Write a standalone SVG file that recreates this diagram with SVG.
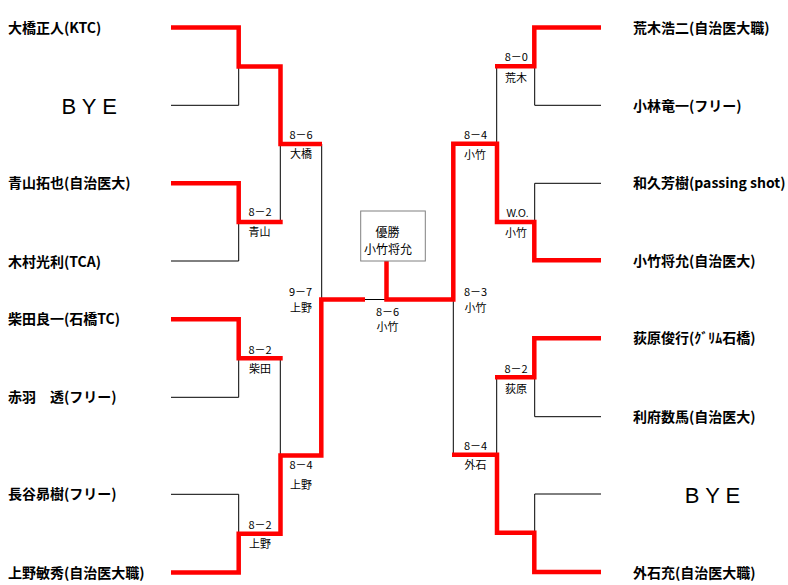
<svg xmlns="http://www.w3.org/2000/svg" width="788" height="585" viewBox="0 0 788 585">
<style>
.name{font-family:"Noto Sans CJK JP","Liberation Sans",sans-serif;font-size:14px;font-weight:bold;fill:#000}
.bye{font-family:"Liberation Sans",sans-serif;font-size:22px;fill:#000;text-anchor:middle}
.sc{font-family:"Noto Sans CJK JP","Liberation Sans",sans-serif;font-size:11px;fill:#000;text-anchor:middle}
.wo{font-family:"Liberation Sans",sans-serif;font-size:10px;fill:#000;text-anchor:middle}
.champ{font-family:"Noto Sans CJK JP",sans-serif;font-size:12px;fill:#000;text-anchor:middle}
.red{fill:none;stroke:#f00;stroke-width:4.5;stroke-linejoin:miter}
.thin{fill:none;stroke:#000;stroke-width:1}
</style>
<rect width="788" height="585" fill="#fff"/>
<g id="connectors">
<path class="thin" d="M171,105.3 H238.7 V66.5"/>
<path class="thin" d="M171,261 H238.7 V222"/>
<path class="thin" d="M171,397.3 H238.7 V358.3"/>
<path class="thin" d="M171,494.3 H238.7 V533.7"/>
<path class="thin" d="M280.3,222 V144"/>
<path class="thin" d="M280.3,358.3 V455.5"/>
<path class="thin" d="M321.7,144 V299.5"/>
<path class="thin" d="M365,299.5 H386.5"/>
<path class="thin" d="M601,105.3 H534.7 V66.2"/>
<path class="thin" d="M601,183.3 H534.7 V222"/>
<path class="thin" d="M601,416.7 H534.7 V377.2"/>
<path class="thin" d="M601,494 H534.7 V532.8"/>
<path class="thin" d="M496.7,66.2 V143.8"/>
<path class="thin" d="M496.7,377.2 V454.7"/>
<path class="thin" d="M453.3,299.5 V454.7"/>
<path class="red" d="M171,27.5 H238.7 V66.5 H280.5 V144 H322"/>
<path class="red" d="M171,183.3 H238.7 V222 H282.7"/>
<path class="red" d="M171,319.3 H238.7 V358.3 H282.7"/>
<path class="red" d="M171,572.5 H238.7 V533.7 H280.5 V455.5 H321.3 V299.5 H365"/>
<path class="red" d="M386.5,261 V299.5 H453.3 V143.8 H497 V222 H534.3 V260.3 H601"/>
<path class="red" d="M601,27.5 H534.3 V66.2 H495"/>
<path class="red" d="M601,338.3 H534.3 V377.2 H495"/>
<path class="red" d="M452,454.7 H497 V532.8 H534.3 V572 H601"/>
</g>
<g id="champion">
<rect x="360.7" y="211" width="64.6" height="50" fill="#fff" stroke="#808080" stroke-width="1"/>
<text class="champ" x="387.5" y="236.5">優勝</text>
<text class="champ" x="388" y="254">小竹将允</text>
</g>
<g id="players-left">
<text class="name" x="8" y="33">大橋正人(KTC)</text>
<text class="bye" x="89.2" y="114">B Y E</text>
<text class="name" x="8" y="188.3">青山拓也(自治医大)</text>
<text class="name" x="8" y="266.7">木村光利(TCA)</text>
<text class="name" x="8" y="324.3">柴田良一(石橋TC)</text>
<text class="name" x="8" y="402.3">赤羽　透(フリー)</text>
<text class="name" x="8" y="499.3">長谷昴樹(フリー)</text>
<text class="name" x="8" y="577.7">上野敏秀(自治医大職)</text>
</g>
<g id="players-right">
<text class="name" x="633" y="33.3">荒木浩二(自治医大職)</text>
<text class="name" x="633" y="111">小林竜一(フリー)</text>
<text class="name" x="633" y="188.3">和久芳樹(passing shot)</text>
<text class="name" x="633" y="266">小竹将允(自治医大)</text>
<text class="name" x="633" y="343.3">荻原俊行(ｸﾞﾘﾑ石橋)</text>
<text class="name" x="633" y="421.7">利府数馬(自治医大)</text>
<text class="bye" x="712.5" y="503">B Y E</text>
<text class="name" x="633" y="577.7">外石充(自治医大職)</text>
</g>
<g id="scores">
<text class="sc" x="260" y="216.3">8－2</text><text class="sc" x="259.5" y="236">青山</text>
<text class="sc" x="260" y="353.6">8－2</text><text class="sc" x="260" y="372.6">柴田</text>
<text class="sc" x="260" y="528.6">8－2</text><text class="sc" x="260" y="547.6">上野</text>
<text class="sc" x="301" y="139.3">8－6</text><text class="sc" x="301" y="158.3">大橋</text>
<text class="sc" x="301" y="469.3">8－4</text><text class="sc" x="301" y="489.3">上野</text>
<text class="sc" x="300.5" y="296">9－7</text><text class="sc" x="301" y="311.5">上野</text>
<text class="sc" x="387.5" y="315.5">8－6</text><text class="sc" x="387.5" y="331">小竹</text>
<text class="sc" x="475.5" y="296">8－3</text><text class="sc" x="475.5" y="311.5">小竹</text>
<text class="sc" x="475.5" y="139.3">8－4</text><text class="sc" x="475" y="158.6">小竹</text>
<text class="sc" x="475.5" y="450">8－4</text><text class="sc" x="475.5" y="469.3">外石</text>
<text class="sc" x="516.3" y="61">8－0</text><text class="sc" x="516" y="82">荒木</text>
<text class="wo" x="517.5" y="217">W.O.</text><text class="sc" x="516" y="236.6">小竹</text>
<text class="sc" x="516" y="373.3">8－2</text><text class="sc" x="516" y="392.6">荻原</text>
</g>
</svg>
